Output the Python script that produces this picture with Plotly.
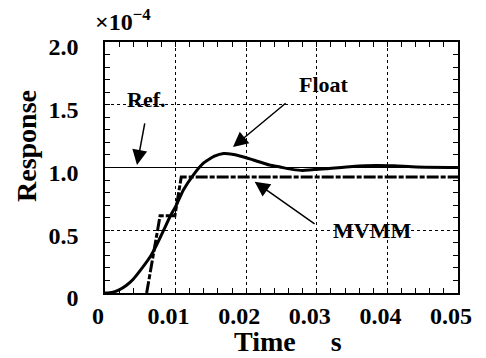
import plotly.graph_objects as go

# Data (values in units of 1e-4)
float_t = [0, 0.001, 0.002, 0.003, 0.004, 0.005, 0.0064, 0.0073, 0.0083, 0.0092, 0.0101,
           0.0111, 0.0125, 0.0139, 0.0155, 0.0168, 0.0182, 0.0195, 0.021, 0.0233, 0.0248,
           0.0265, 0.028, 0.0313, 0.035, 0.0384, 0.041, 0.0441, 0.05]
float_y = [0, 0.005, 0.025, 0.06, 0.11, 0.18, 0.289, 0.382, 0.50, 0.608, 0.70,
           0.82, 0.94, 1.033, 1.09, 1.112, 1.104, 1.086, 1.06, 1.02, 1.004,
           0.985, 0.976, 0.99, 1.008, 1.016, 1.013, 1.004, 1.0]

mvmm_t = [0.0059, 0.0078, 0.0099, 0.0108, 0.05]
mvmm_y = [0, 0.615, 0.615, 0.925, 0.925]

ref_t = [0, 0.05]
ref_y = [1.0, 1.0]

x_tickvals = [0, 0.01, 0.02, 0.03, 0.04, 0.05]
x_ticktext = ["0", "0.01", "0.02", "0.03", "0.04", "0.05"]
y_tickvals = [0, 0.5, 1.0, 1.5, 2.0]
y_ticktext = ["0", "0.5", "1.0", "1.5", "2.0"]

FONT = "Liberation Serif, Times New Roman, serif"

W, H = 486, 358
L, R, T, B = 105, 28, 42, 65
PW, PH = W - L - R, H - T - B

def px(xp):
    return (xp - L) / PW

def py(yp):
    return (H - B - yp) / PH

fig = go.Figure()
fig.add_trace(go.Scatter(x=ref_t, y=ref_y, mode="lines",
                         line=dict(color="black", width=1), showlegend=False))
fig.add_trace(go.Scatter(x=mvmm_t, y=mvmm_y, mode="lines",
                         line=dict(color="black", width=3, dash="12px,2px,5px,2px"),
                         showlegend=False))
fig.add_trace(go.Scatter(x=float_t, y=float_y, mode="lines",
                         line=dict(color="black", width=3, shape="spline", smoothing=0.5),
                         showlegend=False))

axis_common = dict(
    showline=True, linecolor="black", linewidth=1.5, mirror="allticks",
    ticks="inside", ticklen=5, tickwidth=1, tickcolor="black",
    showgrid=True, gridcolor="black", gridwidth=1, griddash="dot",
    zeroline=False,
    tickfont=dict(family=FONT, size=24, color="black", weight="bold"),
)

fig.update_xaxes(range=[0, 0.05], tickvals=x_tickvals, ticktext=x_ticktext,
                 minor=dict(dtick=0.002, ticks="inside", ticklen=5, tickcolor="black",
                            showgrid=False),
                 ticklabelshift=-7, **axis_common)
fig.update_yaxes(range=[0, 2.0], tickvals=y_tickvals, ticktext=y_ticktext,
                 minor=dict(dtick=0.1, ticks="inside", ticklen=5, tickcolor="black",
                            showgrid=False),
                 ticklabelshift=5, ticklabelstandoff=20, **axis_common)

bold = dict(family=FONT, color="black", weight="bold")
arrow = dict(showarrow=True, arrowhead=2, arrowsize=2, arrowwidth=1.5, arrowcolor="black")
anns = [
    dict(text="Response", textangle=-90, xref="paper", yref="paper",
         x=px(26), y=py(146), xanchor="center", yanchor="middle",
         showarrow=False, font=dict(size=28, **bold)),
    dict(text="Time\u00a0\u00a0\u00a0\u00a0\u00a0s", xref="paper", yref="paper",
         x=px(288), y=py(341), xanchor="center", yanchor="middle",
         showarrow=False, font=dict(size=28, **bold)),
    dict(text="×10<sup>−4</sup>", xref="paper", yref="paper",
         x=px(93), y=py(20), xanchor="left", yanchor="middle",
         showarrow=False, font=dict(size=24, **bold)),
    dict(text="Ref.", xref="x", yref="y", x=0.0058, y=1.538,
         showarrow=False, font=dict(size=22, **bold)),
    dict(text="Float", xref="x", yref="y", x=0.031, y=1.665,
         showarrow=False, font=dict(size=22, **bold)),
    dict(text="MVMM", xref="x", yref="y", x=0.0378, y=0.502,
         showarrow=False, font=dict(size=22, **bold)),
    dict(text="", xref="x", yref="y", x=0.00453, y=1.02,
         axref="x", ayref="y", ax=0.00567, ay=1.363, **arrow),
    dict(text="", xref="x", yref="y", x=0.01813, y=1.163,
         axref="x", ayref="y", ax=0.0258, ay=1.522, **arrow),
    dict(text="", xref="x", yref="y", x=0.0212, y=0.887,
         axref="x", ayref="y", ax=0.0299, ay=0.542, **arrow),
]

fig.update_layout(
    width=W, height=H,
    margin=dict(l=L, r=R, t=T, b=B, pad=0),
    paper_bgcolor="white", plot_bgcolor="white",
    font=dict(family=FONT, color="black"),
    annotations=anns,
    showlegend=False,
)

fig.write_html("out.html", config={"displayModeBar": False},
               post_script="document.body.style.margin='0';document.body.style.overflow='hidden';")
